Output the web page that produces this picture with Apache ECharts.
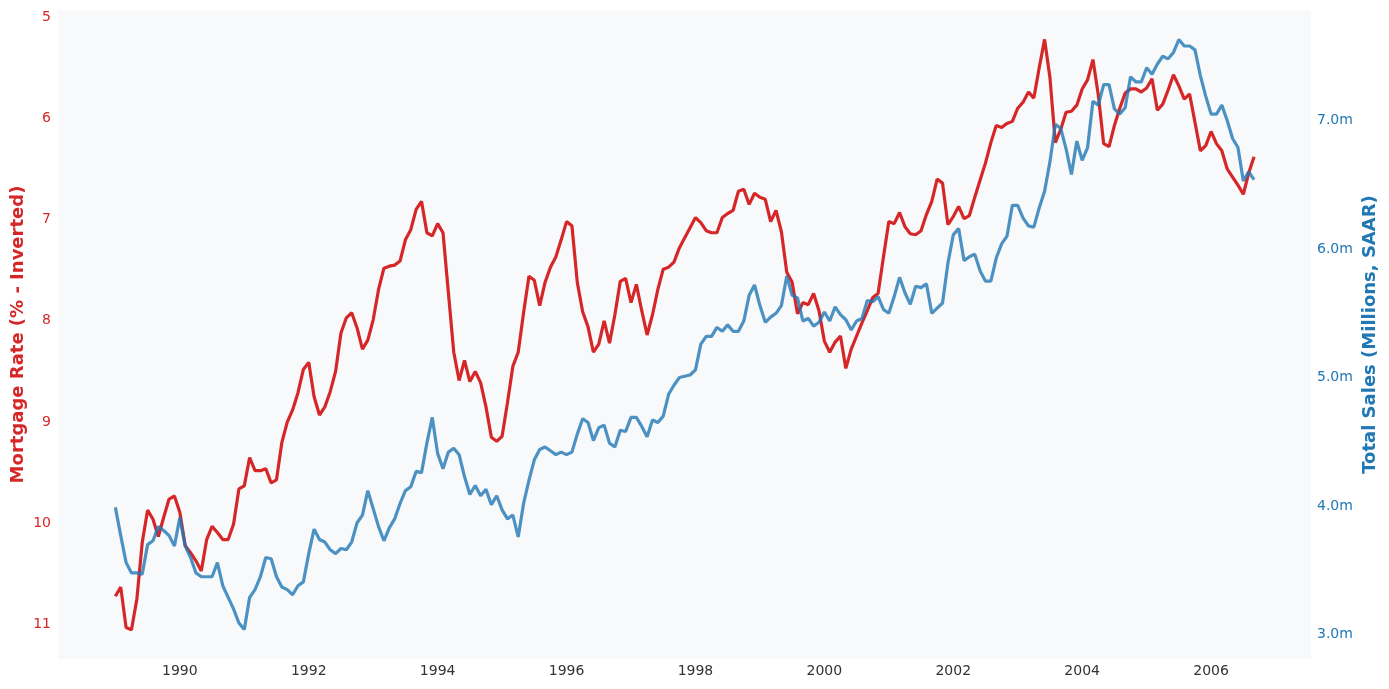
<!DOCTYPE html>
<html>
<head>
<meta charset="utf-8">
<script src="https://cdn.jsdelivr.net/npm/echarts@6/dist/echarts.min.js"></script>
<style>
html,body{margin:0;padding:0;background:#ffffff;}
#chart{width:1389px;height:689px;}
</style>
</head>
<body>
<div id="chart"></div>
<script>
// Monthly observations starting January 1989
const startYear = 1989;
const mortgageRate = [
10.72,10.63,11.03,11.05,10.75,10.19,9.87,9.96,10.13,9.94,
9.76,9.73,9.89,10.22,10.29,10.37,10.47,10.16,10.03,10.09,
10.16,10.16,10.01,9.66,9.63,9.35,9.48,9.48,9.46,9.60,
9.57,9.20,9.00,8.88,8.71,8.48,8.41,8.75,8.93,8.85,
8.70,8.50,8.12,7.97,7.92,8.07,8.28,8.19,7.99,7.69,
7.48,7.46,7.45,7.41,7.20,7.10,6.90,6.82,7.13,7.16,
7.04,7.13,7.72,8.31,8.59,8.39,8.60,8.50,8.61,8.85,
9.15,9.19,9.14,8.81,8.45,8.31,7.92,7.56,7.60,7.85,
7.62,7.47,7.37,7.20,7.02,7.06,7.62,7.91,8.06,8.31,
8.23,8.00,8.22,7.94,7.61,7.58,7.82,7.64,7.90,8.14,
7.94,7.69,7.49,7.47,7.42,7.28,7.18,7.08,6.98,7.03,
7.11,7.13,7.13,6.98,6.94,6.91,6.72,6.70,6.85,6.74,
6.78,6.80,7.02,6.91,7.12,7.52,7.62,7.93,7.82,7.84,
7.73,7.90,8.20,8.31,8.21,8.15,8.47,8.28,8.15,8.02,
7.90,7.77,7.73,7.37,7.02,7.04,6.93,7.07,7.14,7.15,
7.11,6.95,6.82,6.60,6.64,7.05,6.97,6.87,6.99,6.96,
6.78,6.61,6.44,6.24,6.07,6.09,6.05,6.03,5.90,5.84,
5.74,5.80,5.50,5.22,5.60,6.24,6.11,5.94,5.93,5.87,
5.71,5.62,5.42,5.77,6.25,6.28,6.07,5.90,5.75,5.71,
5.71,5.74,5.70,5.61,5.92,5.86,5.72,5.57,5.68,5.81,
5.76,6.04,6.32,6.27,6.13,6.25,6.32,6.50,6.58,6.66,
6.75,6.54,6.38
];
const totalSales = [
3.99,3.77,3.56,3.48,3.48,3.47,3.70,3.73,3.84,3.81,
3.77,3.69,3.91,3.69,3.60,3.48,3.45,3.45,3.45,3.56,
3.38,3.29,3.20,3.09,3.04,3.29,3.35,3.45,3.60,3.59,
3.45,3.37,3.35,3.31,3.38,3.41,3.63,3.82,3.74,3.72,
3.66,3.63,3.67,3.66,3.72,3.87,3.93,4.12,3.98,3.84,
3.73,3.83,3.90,4.02,4.12,4.15,4.27,4.26,4.49,4.69,
4.41,4.29,4.42,4.45,4.40,4.23,4.09,4.16,4.08,4.13,
4.01,4.08,3.97,3.90,3.93,3.76,4.02,4.20,4.36,4.44,
4.46,4.43,4.40,4.42,4.40,4.42,4.56,4.68,4.65,4.51,
4.61,4.63,4.49,4.46,4.59,4.58,4.69,4.69,4.62,4.54,
4.67,4.65,4.70,4.87,4.94,5.00,5.01,5.02,5.06,5.26,
5.32,5.32,5.39,5.36,5.41,5.36,5.36,5.44,5.64,5.72,
5.56,5.43,5.47,5.50,5.56,5.79,5.64,5.62,5.44,5.46,
5.40,5.43,5.51,5.44,5.55,5.49,5.45,5.37,5.44,5.46,
5.60,5.59,5.63,5.53,5.50,5.63,5.78,5.66,5.57,5.71,
5.70,5.73,5.50,5.54,5.58,5.89,6.11,6.16,5.91,5.94,
5.96,5.83,5.75,5.75,5.93,6.04,6.10,6.34,6.34,6.24,
6.18,6.17,6.32,6.45,6.68,6.97,6.94,6.78,6.58,6.84,
6.69,6.79,7.15,7.12,7.28,7.28,7.09,7.05,7.10,7.34,
7.30,7.30,7.41,7.36,7.44,7.50,7.48,7.53,7.63,7.58,
7.58,7.55,7.35,7.19,7.05,7.05,7.12,7.00,6.86,6.79,
6.53,6.60,6.54
];
const yearTicks = [1990,1992,1994,1996,1998,2000,2002,2004,2006];
const rateTicks = [5,6,7,8,9,10,11];
const salesTicks = [3,4,5,6,7];

const monthX = mortgageRate.map((_, i) => startYear + i / 12);
const rateData = mortgageRate.map((v, i) => [monthX[i], v]);
const salesData = totalSales.map((v, i) => [monthX[i], v]);

const RED = '#d62728';
const BLUE = '#1f77b4';
const FONT = 'DejaVu Sans';

const chart = echarts.init(document.getElementById('chart'), null, {renderer: 'canvas'});
chart.setOption({
  backgroundColor: '#ffffff',
  animation: false,
  textStyle: {fontFamily: FONT},
  grid: {left: 58, right: 78, top: 10, bottom: 30, show: true, backgroundColor: '#f8f9fb', borderWidth: 0, containLabel: false, outerBoundsMode: 'none'},
  xAxis: {
    type: 'value', min: 1988.11, max: 2007.55,
    axisLine: {show: false}, axisTick: {show: false}, splitLine: {show: false},
    axisLabel: {customValues: yearTicks, formatter: v => String(v), color: '#333333', fontSize: 14, fontFamily: FONT, margin: 5}
  },
  yAxis: [
    {
      type: 'value', position: 'left', inverse: true, min: 4.93, max: 11.34,
      axisLine: {show: false}, axisTick: {show: false}, splitLine: {show: false},
      axisLabel: {customValues: rateTicks, formatter: v => String(v), color: RED, fontSize: 14, fontFamily: FONT, margin: 7, padding: [2, 0, 0, 0]},
      name: 'Mortgage Rate (% - Inverted)', nameLocation: 'middle', nameGap: 31, nameRotate: 90, nameMoveOverlap: false,
      nameTextStyle: {color: RED, fontSize: 18, fontWeight: 'bold', fontFamily: FONT}
    },
    {
      type: 'value', position: 'right', min: 2.81, max: 7.86,
      axisLine: {show: false}, axisTick: {show: false}, splitLine: {show: false},
      axisLabel: {customValues: salesTicks, formatter: v => v.toFixed(1) + 'm', color: BLUE, fontSize: 14, fontFamily: FONT, margin: 6, padding: [2, 0, 0, 0]},
      name: 'Total Sales (Millions, SAAR)', nameLocation: 'middle', nameGap: 50, nameRotate: 90, nameMoveOverlap: false,
      nameTextStyle: {color: BLUE, fontSize: 18, fontWeight: 'bold', fontFamily: FONT}
    }
  ],
  series: [
    {
      type: 'line', name: 'Mortgage Rate', yAxisIndex: 0, data: rateData,
      showSymbol: false, symbol: 'none', z: 2,
      lineStyle: {color: RED, width: 3.2}
    },
    {
      type: 'line', name: 'Total Sales', yAxisIndex: 1, data: salesData,
      showSymbol: false, symbol: 'none', z: 3,
      lineStyle: {color: BLUE, width: 3.2, opacity: 0.8}
    }
  ]
});
</script>
</body>
</html>
